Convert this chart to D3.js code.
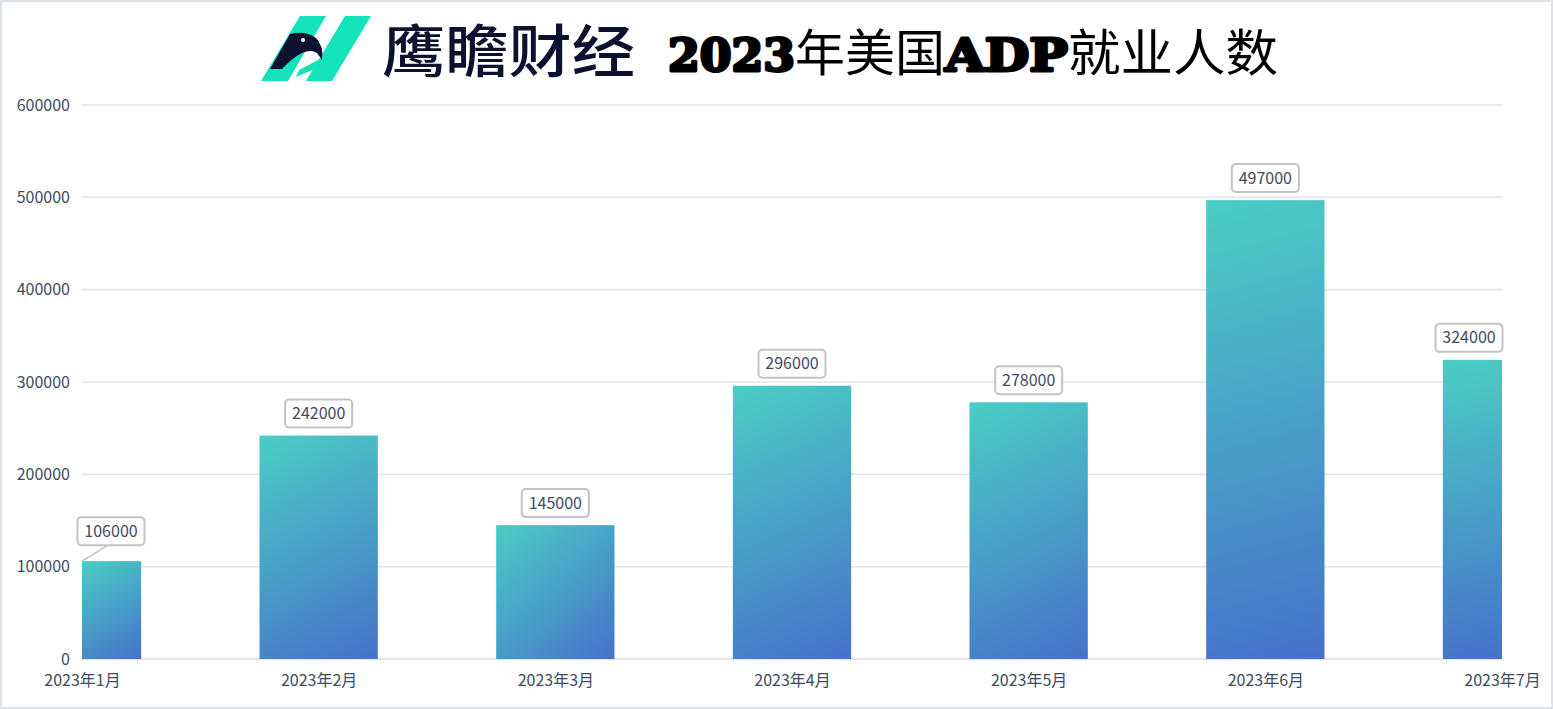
<!DOCTYPE html>
<html><head><meta charset="utf-8">
<script src="https://cdn.jsdelivr.net/npm/d3@7/dist/d3.min.js"></script>
<style>html,body{margin:0;padding:0;background:#fff;}svg{display:block;}</style>
</head><body>
<div id="chart"></div>
<script>
const categories = ["2023年1月","2023年2月","2023年3月","2023年4月","2023年5月","2023年6月","2023年7月"];
const values = [106000, 242000, 145000, 296000, 278000, 497000, 324000];
const yTicks = [0, 100000, 200000, 300000, 400000, 500000, 600000];
const brandText = "鹰瞻财经";
const titleParts = [["2023","latin"],["年美国","cjk"],["ADP","latin"],["就业人数","cjk"]];

const W = 1553, H = 709;
const svg = d3.select("#chart").append("svg").attr("width", W).attr("height", H);
const defs = svg.append("defs");

// outer border
svg.append("rect").attr("x",1).attr("y",1).attr("width",W-2).attr("height",H-2)
  .attr("fill","#fff").attr("stroke","#dde1e8").attr("stroke-width",2);

const plot = {left:82, right:1502, top:105, bottom:659};
const x = d3.scalePoint().domain(categories).range([plot.left, plot.right]);
const y = d3.scaleLinear().domain([0, 600000]).range([plot.bottom, plot.top]);
const bw = x.step()/2;

defs.append("clipPath").attr("id","plotClip").append("rect")
  .attr("x",plot.left).attr("y",0).attr("width",plot.right-plot.left).attr("height",plot.bottom);

const font = "'Noto Sans CJK SC','Noto Sans',sans-serif";
const txtColor = "#404b5f";

// per-bar gradients in pixel space (diagonal of each bar)
values.forEach((v,i)=>{
  const x0 = Math.max(plot.left, x(categories[i])-bw/2);
  const x1 = Math.min(plot.right, x(categories[i])+bw/2);
  const g = defs.append("linearGradient").attr("id","barGrad"+i).attr("gradientUnits","userSpaceOnUse")
    .attr("x1",x0).attr("y1",y(v)).attr("x2",x1).attr("y2",y(0));
  g.append("stop").attr("offset","0%").attr("stop-color","#4acdc4");
  g.append("stop").attr("offset","100%").attr("stop-color","#4672ca");
});

// gridlines
svg.append("g").selectAll("line").data(yTicks).join("line")
  .attr("x1",plot.left).attr("x2",plot.right)
  .attr("y1",d=>y(d)).attr("y2",d=>y(d))
  .attr("stroke",d=>d===0?"#d8dce4":"#e0e4ea").attr("stroke-width",1.5);

// y axis labels via d3 axis
const yAxis = svg.append("g").attr("transform",`translate(${plot.left},0)`)
  .call(d3.axisLeft(y).tickValues(yTicks).tickSize(0).tickPadding(12).tickFormat(d3.format("d")));
yAxis.select(".domain").remove();
yAxis.selectAll("text").attr("font-family",font).attr("font-size",16).attr("fill",txtColor);

// x axis labels
const xAxis = svg.append("g").attr("transform",`translate(0,${plot.bottom})`)
  .call(d3.axisBottom(x).tickSize(0).tickPadding(16));
xAxis.select(".domain").remove();
xAxis.selectAll("text").attr("font-family",font).attr("font-size",16).attr("fill",txtColor);

// bars
svg.append("g").attr("clip-path","url(#plotClip)").selectAll("rect").data(values).join("rect")
  .attr("x",(d,i)=>x(categories[i])-bw/2).attr("width",bw)
  .attr("y",d=>y(d)).attr("height",d=>y(0)-y(d))
  .attr("fill",(d,i)=>`url(#barGrad${i})`);

// value labels
const lbl = svg.append("g");
values.forEach((v,i)=>{
  let cx = x(categories[i]);
  const top = y(v);
  let boxBottom = top - 8;
  const bwid = 67, bh = 28;
  if (i===0){ cx = cx + 29; boxBottom = top - 16;
    lbl.append("line").attr("x1",x(categories[i])).attr("y1",top)
      .attr("x2",cx-3).attr("y2",boxBottom).attr("stroke","#b8c2d4").attr("stroke-width",1.5);
  }
  if (i===values.length-1){ cx = cx - 33; }
  lbl.append("rect").attr("x",cx-bwid/2).attr("y",boxBottom-bh).attr("width",bwid).attr("height",bh)
    .attr("rx",4).attr("fill","#fff").attr("stroke","#c3c3c3").attr("stroke-width",2);
  lbl.append("text").attr("x",cx).attr("y",boxBottom-bh/2).attr("dy","0.35em")
    .attr("text-anchor","middle").attr("font-family",font).attr("font-size",16)
    .attr("fill",txtColor).text(d3.format("d")(v));
});

// logo
const logo = svg.append("g");
const teal = "#14e2bb", navy = "#0c1130";
logo.append("polygon").attr("points","300,16 326,16 288,81 261,81").attr("fill",teal);
logo.append("polygon").attr("points","345,16 371,16 332,81 306,81").attr("fill",teal);
logo.append("polygon").attr("points","299,70 352,42 343,57 296,77").attr("fill",teal);
logo.append("path").attr("d","M270,69 L290,34 Q305,30 316,38 Q324,46 322,60 L317,53 Q311,49 302,53 Q292,58 282,69 Z").attr("fill",navy);
logo.append("circle").attr("cx",303).attr("cy",40).attr("r",2).attr("fill","#ffffff");

svg.append("text").attr("x",382).attr("y",72).attr("font-family","'Noto Sans CJK SC',sans-serif")
  .attr("font-weight",500).attr("font-size",57).attr("fill",navy)
  .attr("textLength",253).attr("lengthAdjust","spacingAndGlyphs").text(brandText);

// title
const tpos = [[668,127],[795,150],[945,123],[1068,210]];
const title = svg.append("g");
titleParts.forEach((p,i)=>{
  const t = title.append("text").attr("x",tpos[i][0]).attr("y",71)
    .attr("textLength",tpos[i][1]).attr("lengthAdjust","spacingAndGlyphs").attr("fill","#000").text(p[0]);
  if(p[1]==="latin"){
    t.attr("font-family","'DejaVu Serif',serif").attr("font-weight","bold").attr("font-size",44)
     .attr("stroke","#000").attr("stroke-width",3).attr("stroke-linejoin","round");
  } else {
    t.attr("font-family","'Noto Sans CJK SC',sans-serif").attr("font-weight",400).attr("font-size",50);
  }
});
</script>
</body></html>
